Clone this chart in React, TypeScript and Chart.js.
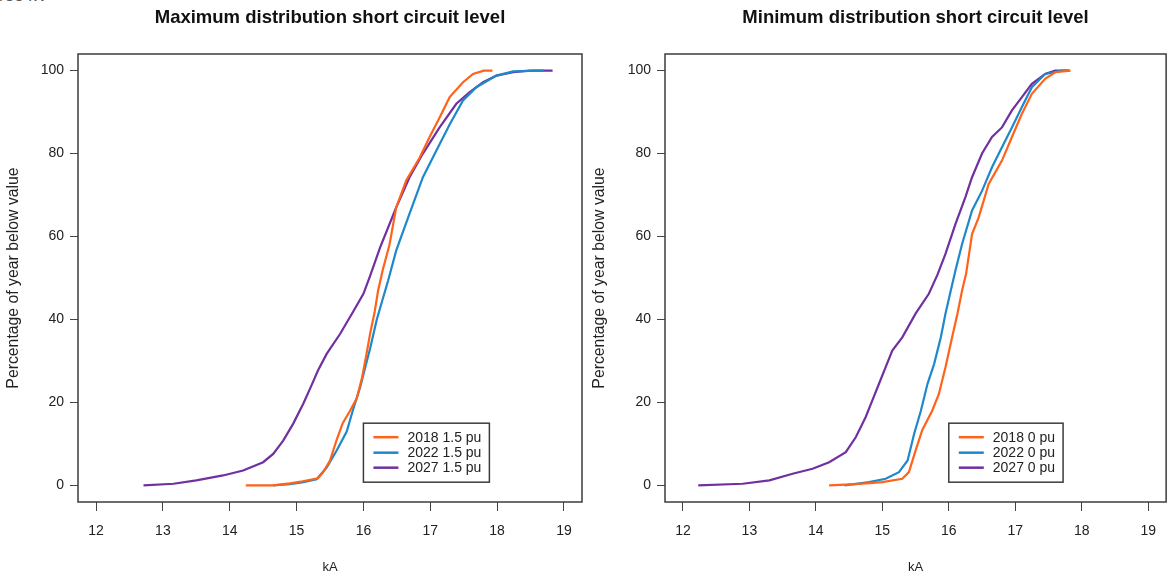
import React, { useEffect, useRef } from "react";
import { Chart, registerables } from "chart.js";

Chart.register(...registerables);

const FONT = '"Liberation Sans", Arial, sans-serif';

// ---------- shared axis / label data ----------
const xTickValues = [12, 13, 14, 15, 16, 17, 18, 19];
const yTickValues = [0, 20, 40, 60, 80, 100];
const xAxisLabel = "kA";
const yAxisLabel = "Percentage of year below value";
const seriesColors = ["#FF6319", "#1E88CC", "#7030A0"];

// ---------- panel titles and legends ----------
const maxTitle = "Maximum distribution short circuit level";
const minTitle = "Minimum distribution short circuit level";
const maxLegend = ["2018 1.5 pu", "2022 1.5 pu", "2027 1.5 pu"];
const minLegend = ["2018 0 pu", "2022 0 pu", "2027 0 pu"];

// ---------- Maximum panel (1.5 pu) ----------
const max2018kA = [14.24, 14.65, 14.9, 15.09, 15.32, 15.39, 15.5, 15.6, 15.69, 15.8, 15.9, 15.98, 16.05, 16.1, 16.17, 16.22, 16.29, 16.39, 16.49, 16.64, 16.84, 16.99, 17.14, 17.29, 17.49, 17.64, 17.8, 17.93];
const max2018Pct = [0, 0, 0.5, 1, 1.7, 3, 6, 11, 15, 18, 21, 26, 32, 36.6, 42, 47, 52, 58, 67, 73.5, 79, 84, 88.7, 93.6, 97.2, 99.2, 100, 100];

const max2022kA = [14.65, 14.9, 15.1, 15.3, 15.45, 15.6, 15.75, 15.84, 15.95, 16.02, 16.1, 16.2, 16.29, 16.37, 16.49, 16.69, 16.89, 17.09, 17.29, 17.49, 17.69, 17.99, 18.24, 18.59, 18.7];
const max2022Pct = [0, 0.3, 0.8, 1.5, 4.3, 8.4, 13, 18, 23.6, 28, 33, 40, 45, 49.4, 56.6, 65.5, 74.3, 80.7, 87, 92.8, 96, 98.8, 99.8, 100, 100];

const max2027kA = [12.71, 13.16, 13.5, 13.9, 14.2, 14.5, 14.65, 14.8, 14.95, 15.1, 15.22, 15.32, 15.45, 15.65, 15.85, 16.0, 16.1, 16.25, 16.49, 16.69, 16.89, 17.14, 17.39, 17.59, 17.79, 17.99, 18.24, 18.49, 18.83];
const max2027Pct = [0, 0.4, 1.2, 2.4, 3.6, 5.6, 7.6, 10.8, 14.9, 19.7, 24, 27.7, 31.7, 36.5, 42, 46.2, 50.5, 57.4, 67, 74.3, 80, 86.3, 92, 94.8, 97.2, 98.8, 99.6, 100, 100];

// ---------- Minimum panel (0 pu) ----------
const min2018kA = [14.2, 14.6, 15.0, 15.3, 15.4, 15.5, 15.6, 15.75, 15.85, 15.95, 16.05, 16.13, 16.2, 16.26, 16.35, 16.45, 16.6, 16.8, 16.95, 17.1, 17.25, 17.45, 17.6, 17.83];
const min2018Pct = [0, 0.3, 0.8, 1.6, 3.2, 8.4, 13.3, 18, 22, 28.5, 35.7, 41.4, 47, 51, 60.6, 64.6, 72.7, 78.3, 84, 89.6, 94.4, 98, 99.6, 100];

const min2022kA = [14.43, 14.8, 15.05, 15.25, 15.38, 15.48, 15.58, 15.68, 15.78, 15.88, 15.95, 16.03, 16.1, 16.2, 16.35, 16.5, 16.65, 16.8, 16.95, 17.1, 17.25, 17.45, 17.7, 17.82];
const min2022Pct = [0, 0.8, 1.6, 3.2, 6, 12.5, 18, 24.5, 29.3, 35.7, 41.4, 47, 51.8, 58.2, 66.3, 71, 76.7, 81.5, 86.3, 91.2, 96, 99.2, 100, 100];

const min2027kA = [12.23, 12.9, 13.3, 13.65, 13.95, 14.2, 14.45, 14.6, 14.75, 14.85, 14.95, 15.05, 15.15, 15.3, 15.5, 15.7, 15.83, 15.95, 16.1, 16.25, 16.35, 16.5, 16.65, 16.8, 16.95, 17.1, 17.25, 17.45, 17.6, 17.8];
const min2027Pct = [0, 0.4, 1.2, 2.8, 4, 5.6, 8, 11.6, 16.5, 20.5, 24.5, 28.5, 32.5, 35.7, 41.4, 46.2, 50.8, 55.8, 63, 69.5, 74.3, 80, 84, 86.3, 90.4, 93.6, 96.8, 99.2, 100, 100];

const legendAnchorX = 16;
const legendAnchorY = 15;

const zip = (xs: number[], ys: number[]) => xs.map((x, i) => ({ x, y: ys[i] }));

const panelPlugin = {
  id: "rpanel",
  afterDraw(chart: any, _args: any, opts: any) {
    const { ctx, chartArea: a, scales } = chart;
    ctx.save();
    // box around plot region
    ctx.strokeStyle = "#3c3c3c";
    ctx.lineWidth = 1.5;
    ctx.strokeRect(a.left, a.top, a.right - a.left, a.bottom - a.top);
    // title
    ctx.fillStyle = "#111";
    ctx.font = `bold 18.5px ${FONT}`;
    ctx.textAlign = "center";
    ctx.textBaseline = "middle";
    ctx.fillText(opts.title, (a.left + a.right) / 2, 18);
    // legend
    const labels: string[] = opts.labels;
    ctx.font = `14px ${FONT}`;
    const tw = Math.max(...labels.map((l) => ctx.measureText(l).width));
    const x0 = scales.x.getPixelForValue(legendAnchorX);
    const y0 = scales.y.getPixelForValue(legendAnchorY);
    const w = 10 + 25 + 9 + tw + 8;
    const h = 59;
    ctx.fillStyle = "#fff";
    ctx.fillRect(x0, y0, w, h);
    ctx.strokeStyle = "#3c3c3c";
    ctx.lineWidth = 1.5;
    ctx.strokeRect(x0, y0, w, h);
    const rows = [14, 29.5, 44.5];
    labels.forEach((l, i) => {
      const yy = y0 + rows[i];
      ctx.strokeStyle = seriesColors[i];
      ctx.lineWidth = 2.5;
      ctx.beginPath();
      ctx.moveTo(x0 + 10, yy);
      ctx.lineTo(x0 + 35, yy);
      ctx.stroke();
      ctx.fillStyle = "#222";
      ctx.textAlign = "left";
      ctx.textBaseline = "middle";
      ctx.fillText(l, x0 + 44, yy + 0.5);
    });
    ctx.restore();
  },
};

function makeConfig(
  title: string,
  labels: string[],
  series: { kA: number[]; pct: number[] }[],
  yAxisWidth: number,
  yTitlePad: number,
  padRight: number
): any {
  return {
    type: "line",
    data: {
      datasets: series.map((s, i) => ({
        label: labels[i],
        data: zip(s.kA, s.pct),
        borderColor: seriesColors[i],
        backgroundColor: seriesColors[i],
        borderWidth: 2.2,
        pointRadius: 0,
        tension: 0,
        fill: false,
      })),
    },
    options: {
      animation: false,
      responsive: false,
      layout: { padding: { top: 54, left: 0, right: padRight, bottom: 0 } },
      plugins: {
        legend: { display: false },
        tooltip: { enabled: false },
        title: { display: false },
        rpanel: { title, labels },
      },
      scales: {
        x: {
          type: "linear",
          min: 11.73,
          max: 19.27,
          afterBuildTicks: (s: any) => {
            s.ticks = xTickValues.map((v) => ({ value: v }));
          },
          afterFit: (s: any) => {
            s.height = 75;
          },
          grid: { display: true, drawOnChartArea: false, drawTicks: true, tickLength: 9, color: "#444", lineWidth: 1 },
          border: { display: false },
          ticks: { color: "#222", font: { size: 14, family: FONT }, padding: 12, maxRotation: 0 },
          title: { display: true, text: xAxisLabel, color: "#222", font: { size: 13, family: FONT }, padding: { top: 0, bottom: 2 } },
        },
        y: {
          type: "linear",
          min: -4,
          max: 104,
          afterBuildTicks: (s: any) => {
            s.ticks = yTickValues.map((v) => ({ value: v }));
          },
          afterFit: (s: any) => {
            s.width = yAxisWidth;
          },
          grid: { display: true, drawOnChartArea: false, drawTicks: true, tickLength: 8, color: "#444", lineWidth: 1 },
          border: { display: false },
          ticks: { color: "#222", font: { size: 14, family: FONT }, padding: 6 },
          title: { display: true, text: yAxisLabel, color: "#222", font: { size: 15.8, family: FONT }, padding: { top: yTitlePad, bottom: 0 } },
        },
      },
    },
    plugins: [panelPlugin],
  };
}

function Panel(props: { config: any; left: number }) {
  const ref = useRef<HTMLCanvasElement | null>(null);
  useEffect(() => {
    if (!ref.current) return;
    const chart = new Chart(ref.current, props.config);
    return () => chart.destroy();
  }, [props.config]);
  return (
    <canvas
      ref={ref}
      width={584}
      height={577}
      style={{ position: "absolute", left: props.left, top: 0, width: 584, height: 577, display: "block" }}
    />
  );
}

const maxConfig = makeConfig(
  maxTitle,
  maxLegend,
  [
    { kA: max2018kA, pct: max2018Pct },
    { kA: max2022kA, pct: max2022Pct },
    { kA: max2027kA, pct: max2027Pct },
  ],
  78,
  4.5,
  2
);

const minConfig = makeConfig(
  minTitle,
  minLegend,
  [
    { kA: min2018kA, pct: min2018Pct },
    { kA: min2022kA, pct: min2022Pct },
    { kA: min2027kA, pct: min2027Pct },
  ],
  81,
  6.5,
  1
);

export default function App() {
  return (
    <div
      style={{
        position: "fixed",
        left: 0,
        top: 0,
        width: 1168,
        height: 577,
        overflow: "hidden",
        background: "#fff",
        fontFamily: FONT,
      }}
    >
      <div style={{ position: "absolute", left: 0, top: -14, fontSize: 17, color: "#555", whiteSpace: "nowrap" }}>
        /33 kV
      </div>
      <Panel config={maxConfig} left={0} />
      <Panel config={minConfig} left={584} />
    </div>
  );
}
